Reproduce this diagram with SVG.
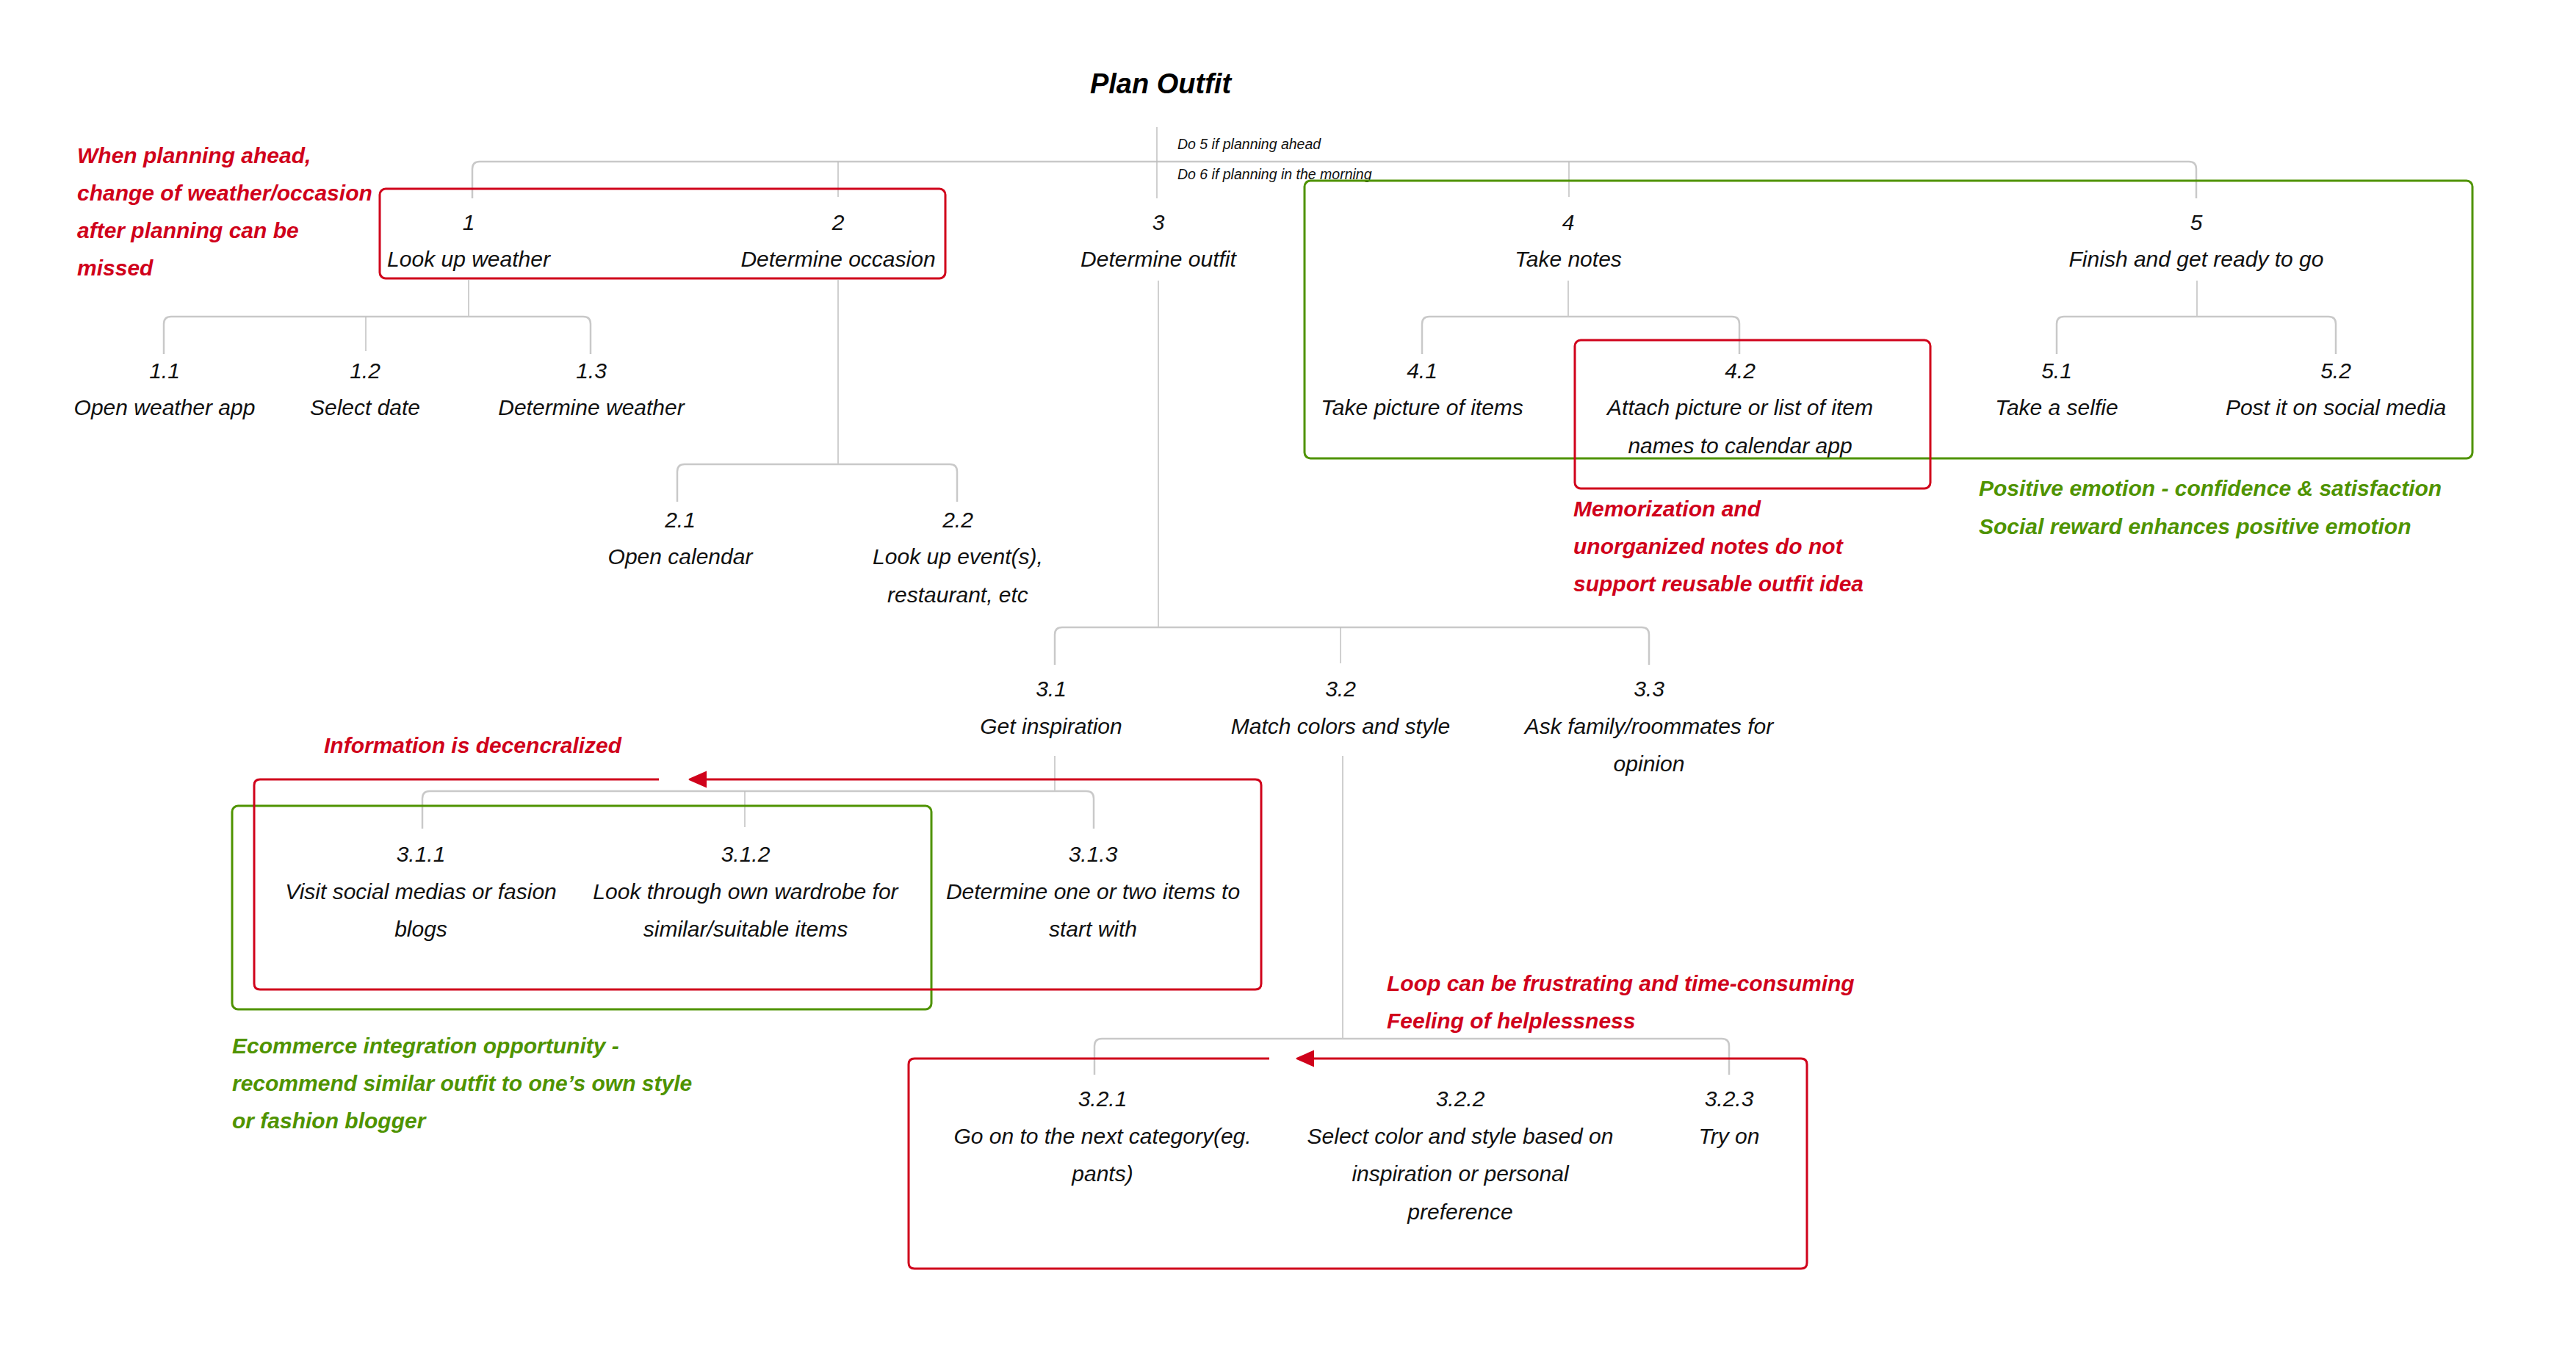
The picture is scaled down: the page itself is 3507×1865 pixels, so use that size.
<svg xmlns="http://www.w3.org/2000/svg" width="3507" height="1865" viewBox="0 0 3507 1865">
<style>
.n{font-family:"Liberation Sans",Arial,sans-serif;font-style:italic;font-size:30px;fill:#111;text-anchor:middle}
.ti{font-family:"Liberation Sans",Arial,sans-serif;font-style:italic;font-weight:bold;font-size:38px;fill:#000;text-anchor:middle}
.sm{font-family:"Liberation Sans",Arial,sans-serif;font-style:italic;font-size:19.5px;fill:#111}
.ar{font-family:"Liberation Sans",Arial,sans-serif;font-style:italic;font-weight:bold;font-size:30px;fill:#d0021b}
.ag{font-family:"Liberation Sans",Arial,sans-serif;font-style:italic;font-weight:bold;font-size:30px;fill:#4f9300}
.br{fill:none;stroke:#c9c9c9;stroke-width:2.5}
.vl{fill:none;stroke:#bcbcbc;stroke-width:1.4}
.rb{fill:none;stroke:#d0021b;stroke-width:3}
.gb{fill:none;stroke:#4f9300;stroke-width:3}
</style>
<defs>
<marker id="arr" markerUnits="userSpaceOnUse" markerWidth="28" markerHeight="28" viewBox="0 -14 28 28" refX="0" refY="0" orient="auto">
<path d="M0,-11.5 L24,-1 Q25,0 24,1 L0,11.5 Z" fill="#d0021b"/>
</marker>
</defs>
<rect width="3507" height="1865" fill="#fff"/>

<g id="connectors">
<path class="br" d="M643,270 V230 Q643,220 653,220 H2980 Q2990,220 2990,230 V270"/>
<path class="vl" d="M1575,173 V270 M1141,220 V268 M2136,220 V268"/>
<path class="vl" d="M638,381 V431 M1141,381 V632 M1577,382 V854 M2135,382 V431 M2991,382 V431"/>
<path class="br" d="M223,482 V441 Q223,431 233,431 H794 Q804,431 804,441 V482"/>
<path class="vl" d="M498,431 V478"/>
<path class="br" d="M922,683 V642 Q922,632 932,632 H1293 Q1303,632 1303,642 V683"/>
<path class="br" d="M1936,482 V441 Q1936,431 1946,431 H2358 Q2368,431 2368,441 V482"/>
<path class="br" d="M2800,482 V441 Q2800,431 2810,431 H3170 Q3180,431 3180,441 V482"/>
<path class="br" d="M1436,905 V864 Q1436,854 1446,854 H2235 Q2245,854 2245,864 V905"/>
<path class="vl" d="M1825,854 V903"/>
<path class="vl" d="M1436,1029 V1077 M1828,1029 V1414"/>
<path class="br" d="M575,1128 V1087 Q575,1077 585,1077 H1479 Q1489,1077 1489,1087 V1128"/>
<path class="vl" d="M1014,1077 V1126"/>
<path class="br" d="M1490,1463 V1424 Q1490,1414 1500,1414 H2344 Q2354,1414 2354,1424 V1463"/>
</g>

<g id="root">
<text class="ti" x="1580" y="127">Plan Outfit</text>
<text class="sm" x="1603" y="203">Do 5 if planning ahead</text>
<text class="sm" x="1603" y="244">Do 6 if planning in the morning</text>
</g>

<g id="n1"><text class="n" x="638" y="313">1</text><text class="n" x="638" y="363">Look up weather</text></g>
<g id="n2"><text class="n" x="1141" y="313">2</text><text class="n" x="1141" y="363">Determine occasion</text></g>
<g id="n3"><text class="n" x="1577" y="313">3</text><text class="n" x="1577" y="363">Determine outfit</text></g>
<g id="n4"><text class="n" x="2135" y="313">4</text><text class="n" x="2135" y="363">Take notes</text></g>
<g id="n5"><text class="n" x="2990" y="313">5</text><text class="n" x="2990" y="363">Finish and get ready to go</text></g>

<g id="n1-1"><text class="n" x="224" y="515">1.1</text><text class="n" x="224" y="565">Open weather app</text></g>
<g id="n1-2"><text class="n" x="497" y="515">1.2</text><text class="n" x="497" y="565">Select date</text></g>
<g id="n1-3"><text class="n" x="805" y="515">1.3</text><text class="n" x="805" y="565">Determine weather</text></g>

<g id="n2-1"><text class="n" x="926" y="718">2.1</text><text class="n" x="926" y="768">Open calendar</text></g>
<g id="n2-2"><text class="n" x="1304" y="718">2.2</text><text class="n" x="1304" y="768">Look up event(s),</text><text class="n" x="1304" y="820">restaurant, etc</text></g>

<g id="n4-1"><text class="n" x="1936" y="515">4.1</text><text class="n" x="1936" y="565">Take picture of items</text></g>
<g id="n4-2"><text class="n" x="2369" y="515">4.2</text><text class="n" x="2369" y="565">Attach picture or list of item</text><text class="n" x="2369" y="617">names to calendar app</text></g>

<g id="n5-1"><text class="n" x="2800" y="515">5.1</text><text class="n" x="2800" y="565">Take a selfie</text></g>
<g id="n5-2"><text class="n" x="3180" y="515">5.2</text><text class="n" x="3180" y="565">Post it on social media</text></g>

<g id="n3-1"><text class="n" x="1431" y="948">3.1</text><text class="n" x="1431" y="999">Get inspiration</text></g>
<g id="n3-2"><text class="n" x="1825" y="948">3.2</text><text class="n" x="1825" y="999">Match colors and style</text></g>
<g id="n3-3"><text class="n" x="2245" y="948">3.3</text><text class="n" x="2245" y="999">Ask family/roommates for</text><text class="n" x="2245" y="1050">opinion</text></g>

<g id="n3-1-1"><text class="n" x="573" y="1173">3.1.1</text><text class="n" x="573" y="1224">Visit social medias or fasion</text><text class="n" x="573" y="1275">blogs</text></g>
<g id="n3-1-2"><text class="n" x="1015" y="1173">3.1.2</text><text class="n" x="1015" y="1224">Look through own wardrobe for</text><text class="n" x="1015" y="1275">similar/suitable items</text></g>
<g id="n3-1-3"><text class="n" x="1488" y="1173">3.1.3</text><text class="n" x="1488" y="1224">Determine one or two items to</text><text class="n" x="1488" y="1275">start with</text></g>

<g id="n3-2-1"><text class="n" x="1501" y="1506">3.2.1</text><text class="n" x="1501" y="1557">Go on to the next category(eg.</text><text class="n" x="1501" y="1608">pants)</text></g>
<g id="n3-2-2"><text class="n" x="1988" y="1506">3.2.2</text><text class="n" x="1988" y="1557">Select color and style based on</text><text class="n" x="1988" y="1608">inspiration or personal</text><text class="n" x="1988" y="1660">preference</text></g>
<g id="n3-2-3"><text class="n" x="2354" y="1506">3.2.3</text><text class="n" x="2354" y="1557">Try on</text></g>

<g id="boundaries">
<rect class="rb" x="517" y="257" width="770" height="122" rx="8"/>
<rect class="gb" x="1776" y="246" width="1590" height="378" rx="8"/>
<rect class="rb" x="2144" y="463" width="484" height="202" rx="8"/>
<rect class="gb" x="316" y="1097" width="952" height="277" rx="8"/>
<path class="rb" marker-end="url(#arr)" d="M897,1061 H354 Q346,1061 346,1069 V1339 Q346,1347 354,1347 H1709 Q1717,1347 1717,1339 V1069 Q1717,1061 1709,1061 H962"/>
<path class="rb" marker-end="url(#arr)" d="M1728,1441 H1245 Q1237,1441 1237,1449 V1719 Q1237,1727 1245,1727 H2452 Q2460,1727 2460,1719 V1449 Q2460,1441 2452,1441 H1789"/>
</g>

<g id="notes">
<text class="ar" x="105" y="222">When planning ahead,</text>
<text class="ar" x="105" y="273">change of weather/occasion</text>
<text class="ar" x="105" y="324">after planning can be</text>
<text class="ar" x="105" y="375">missed</text>
<text class="ar" x="2142" y="703">Memorization and</text>
<text class="ar" x="2142" y="754">unorganized notes do not</text>
<text class="ar" x="2142" y="805">support reusable outfit idea</text>
<text class="ag" x="2694" y="675">Positive emotion - confidence &amp; satisfaction</text>
<text class="ag" x="2694" y="727">Social reward enhances positive emotion</text>
<text class="ar" x="441" y="1025">Information is decencralized</text>
<text class="ag" x="316" y="1434">Ecommerce integration opportunity -</text>
<text class="ag" x="316" y="1485">recommend similar outfit to one’s own style</text>
<text class="ag" x="316" y="1536">or fashion blogger</text>
<text class="ar" x="1888" y="1349">Loop can be frustrating and time-consuming</text>
<text class="ar" x="1888" y="1400">Feeling of helplessness</text>
</g>
</svg>
